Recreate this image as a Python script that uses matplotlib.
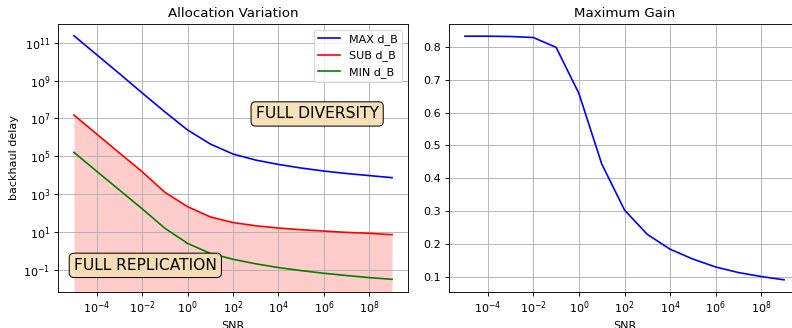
import numpy as np
import matplotlib
matplotlib.use("Agg")
import matplotlib.pyplot as plt

snr = [1e-5, 1e-4, 1e-3, 1e-2, 1e-1, 1e0, 1e1, 1e2, 1e3, 1e4, 1e5, 1e6, 1e7, 1e8, 1e9]
max_log = [11.37, 10.37, 9.37, 8.35, 7.35, 6.39, 5.65, 5.12, 4.80, 4.57, 4.38, 4.22, 4.09, 3.98, 3.87]
sub_log = [7.18, 6.18, 5.18, 4.19, 3.10, 2.34, 1.80, 1.50, 1.33, 1.21, 1.12, 1.05, 0.98, 0.93, 0.86]
min_log = [5.21, 4.21, 3.22, 2.23, 1.20, 0.40, -0.13, -0.44, -0.68, -0.88, -1.04, -1.18, -1.30, -1.41, -1.50]
gain = [0.832, 0.832, 0.831, 0.828, 0.798, 0.658, 0.444, 0.304, 0.230, 0.185, 0.155, 0.131, 0.114, 0.102, 0.092]

max_d = [10 ** v for v in max_log]
sub_d = [10 ** v for v in sub_log]
min_d = [10 ** v for v in min_log]

W, H = 792, 328
dpi = 80
fig = plt.figure(figsize=(W / dpi, H / dpi), dpi=dpi)

ax1 = fig.add_axes([58 / W, 36 / H, 350 / W, 268 / H])
ax2 = fig.add_axes([449 / W, 36 / H, 351 / W, 268 / H])

ax1.plot(snr, max_d, color='blue', label='MAX d_B')
ax1.plot(snr, sub_d, color='red', label='SUB d_B')
ax1.plot(snr, min_d, color='green', label='MIN d_B')
ax1.set_xscale('log')
ax1.set_yscale('log')
ax1.set_xlim(10 ** -5.7, 10 ** 9.7)
ylo = 10 ** -2.17
ax1.set_ylim(ylo, 10 ** 11.99)
ax1.fill_between(snr, ylo, sub_d, color='red', alpha=0.2, linewidth=0)
ax1.grid(True)
ax1.set_title('Allocation Variation')
ax1.set_xlabel('SNR')
ax1.set_ylabel('backhaul delay')
ax1.legend(loc='upper right')
bbox = dict(boxstyle='round', facecolor='wheat', alpha=0.9, edgecolor='black')
ax1.text(1e3, 1e7, 'FULL DIVERSITY', fontsize=14, bbox=bbox)
ax1.text(1e-5, 1e-1, 'FULL REPLICATION', fontsize=14, bbox=bbox)

ax2.plot(snr, gain, color='blue')
ax2.set_xscale('log')
ax2.set_xlim(10 ** -5.7, 10 ** 9.7)
ax2.grid(True)
ax2.set_title('Maximum Gain')
ax2.set_xlabel('SNR')

fig.savefig('out.png', dpi=dpi)
